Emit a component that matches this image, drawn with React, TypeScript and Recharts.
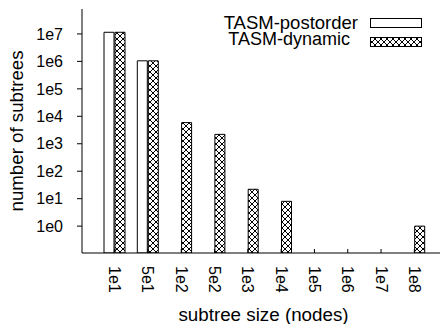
import React from "react";
import { BarChart, Bar, XAxis, YAxis } from "recharts";

// subtree size buckets
const sizes = ["1e1", "5e1", "1e2", "5e2", "1e3", "1e4", "1e5", "1e6", "1e7", "1e8"];
const postorder = [1.15e7, 1.05e6, null, null, null, null, null, null, null, null];
const dynamic = [1.15e7, 1.05e6, 5900, 2200, 22, 8, null, null, null, 1];
const yTicks = [1, 10, 100, 1e3, 1e4, 1e5, 1e6, 1e7];

const data = sizes.map((s, i) => ({ size: s, postorder: postorder[i], dynamic: dynamic[i] }));

const FONT = "'Liberation Sans', Arial, Helvetica, sans-serif";

const SizeTick = (props: any) => {
  const { x, y, payload } = props;
  return (
    <g>
      <line x1={x} y1={y} x2={x} y2={y - 4} stroke="#000" />
      <text
        transform={`translate(${x},${y + 13}) rotate(90)`}
        textAnchor="start"
        dominantBaseline="central"
        fontFamily={FONT}
        fontSize={16}
        fill="#000"
      >
        {payload.value}
      </text>
    </g>
  );
};

// gnuplot-style key in the top right corner
const KeyBox = () => (
  <svg width={440} height={60} style={{ position: "absolute", left: 0, top: 0 }}>
    <text x={358} y={29} textAnchor="end" fontFamily={FONT} fontSize={18.5} fill="#000">
      TASM-postorder
    </text>
    <rect x={370.5} y={18.5} width={51} height={9} fill="#fff" stroke="#000" />
    <text x={350} y={45} textAnchor="end" fontFamily={FONT} fontSize={18} fill="#000">
      TASM-dynamic
    </text>
    <rect x={370.5} y={37.5} width={51} height={9} fill="url(#xhatch)" stroke="#000" />
  </svg>
);

const YLabel = (props: any) => {
  const { viewBox } = props;
  const cy = viewBox.y + viewBox.height / 2;
  return (
    <text
      transform={`translate(23,${cy}) rotate(-90)`}
      textAnchor="middle"
      fontFamily={FONT}
      fontSize={18.7}
      fill="#000"
    >
      number of subtrees
    </text>
  );
};

export default function App() {
  return (
    <div style={{ position: "absolute", left: 0, top: 0, width: 440, height: 324, overflow: "hidden", background: "#fff" }}>
      <svg width={0} height={0} style={{ position: "absolute" }}>
        <defs>
          <pattern id="xhatch" width={6} height={6} patternUnits="userSpaceOnUse">
            <rect width={6} height={6} fill="#fff" />
            <path d="M0,0 L6,6 M6,0 L0,6" stroke="#000" strokeWidth={1} />
          </pattern>
        </defs>
      </svg>
      <BarChart
        width={445}
        height={324}
        data={data}
        margin={{ top: 9, right: 0, bottom: 0, left: 0 }}
        barSize={10}
        barGap={1}
      >
        <XAxis
          dataKey="size"
          height={71}
          padding={{ left: 16, right: 14 }}
          tickLine={false}
          tickSize={0}
          tickMargin={0}
          tick={<SizeTick />}
          interval={0}
          axisLine={{ stroke: "#000" }}
          label={{ value: "subtree size (nodes)", position: "insideBottom", offset: 3, fontSize: 18.8, fontFamily: FONT, fill: "#000" }}
        />
        <XAxis xAxisId="top" dataKey="size" orientation="top" height={0} tick={false} tickLine={false} axisLine={{ stroke: "#000" }} />
        <YAxis
          scale="log"
          domain={[0.105, 8.1e7]}
          allowDataOverflow
          ticks={yTicks}
          interval={0}
          width={82}
          tickSize={5}
          tickMargin={14}
          tickFormatter={(v: number) => `1e${Math.round(Math.log10(v))}`}
          tick={{ fontSize: 16, fontFamily: FONT, fill: "#000" }}
          tickLine={{ stroke: "#000" }}
          axisLine={{ stroke: "#000" }}
          label={<YLabel />}
        />
        <YAxis
          yAxisId="r"
          orientation="right"
          scale="log"
          domain={[0.105, 8.1e7]}
          allowDataOverflow
          ticks={yTicks}
          interval={0}
          width={5}
          mirror
          tickSize={3}
          tick={false}
          tickLine={{ stroke: "#000" }}
          axisLine={{ stroke: "#000" }}
        />
        <Bar dataKey="postorder" fill="#fff" stroke="#000" strokeWidth={1} isAnimationActive={false} />
        <Bar dataKey="dynamic" fill="url(#xhatch)" stroke="#000" strokeWidth={1} isAnimationActive={false} />
      </BarChart>
      <KeyBox />
    </div>
  );
}
